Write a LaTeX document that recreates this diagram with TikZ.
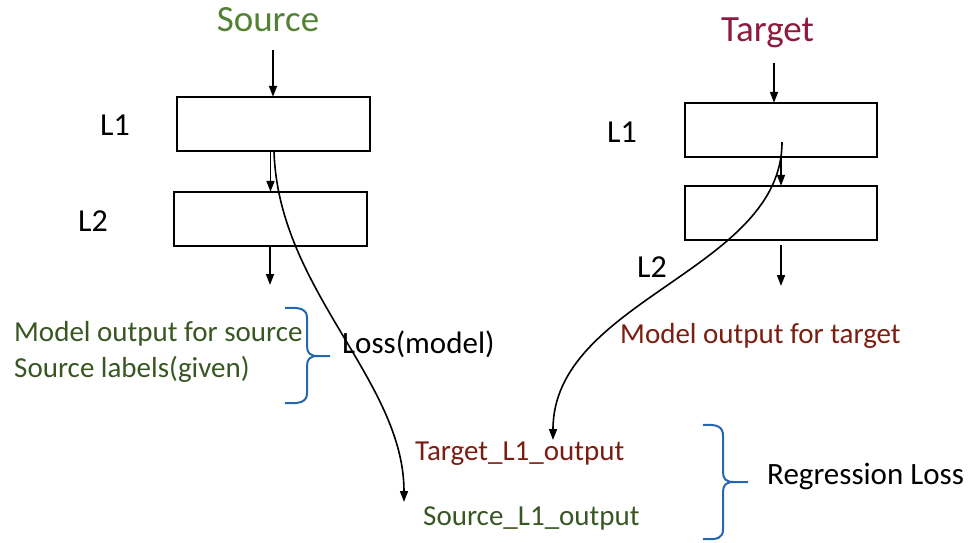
\documentclass[tikz,border=0pt]{standalone}
\usepackage{fontspec}
\setmainfont{Carlito}
\usetikzlibrary{arrows.meta}
\definecolor{srcgreen}{HTML}{548235}
\definecolor{srcdark}{HTML}{385723}
\definecolor{tgtred}{HTML}{8E1B3E}
\definecolor{tgtdark}{HTML}{7B1E12}
\definecolor{braceblue}{HTML}{2467AC}
\tikzset{
  layerbox/.style={draw=black, line width=1.7pt, fill=white},
  flow/.style={line width=1.6pt, -{Triangle[length=11pt,width=8pt]}},
  txt/.style={inner sep=0pt, anchor=base west},
  title/.style={inner sep=0pt, anchor=base, font=\fontsize{37}{44}\selectfont},
  lyr/.style={txt, font=\fontsize{32}{38}\selectfont},
  body/.style={txt, font=\fontsize{29}{35}\selectfont},
  bodyl/.style={txt, font=\fontsize{31}{37}\selectfont},
  curly/.style={draw=braceblue, line width=2pt},
}
\begin{document}
\begin{tikzpicture}[x=1pt, y=-1pt]
\useasboundingbox (0,0) rectangle (975,543);

% titles
\node[title, text=srcgreen] (srctitle) at (268,32) {Source};
\node[title, text=tgtred] (tgttitle) at (767.5,42) {Target};

% source network
\draw[layerbox] (177,97) rectangle (370,151);
\node[inner sep=0pt, minimum width=193pt, minimum height=54pt] (sl1) at (273.5,124) {};
\draw[layerbox] (174,192) rectangle (367,246);
\node[inner sep=0pt, minimum width=193pt, minimum height=54pt] (sl2) at (270.5,219) {};
\node[lyr] (sl1lab) at (100,135) {L1};
\node[lyr] (sl2lab) at (78,231) {L2};

\coordinate (sin) at (273,50);
\coordinate (sout) at (270,285);
\draw[flow] (sin) -- (sin |- sl1.north);
\draw[flow] (sl2.north |- sl1.south) -- (sl2.north);
\draw[flow] (sout |- sl2.south) -- (sout);

% target network
\draw[layerbox] (685,103) rectangle (877,157);
\node[inner sep=0pt, minimum width=192pt, minimum height=54pt] (tl1) at (781,130) {};
\draw[layerbox] (685,186) rectangle (877,240);
\node[inner sep=0pt, minimum width=192pt, minimum height=54pt] (tl2) at (781,213) {};
\node[lyr] (tl1lab) at (607,142) {L1};
\node[lyr] (tl2lab) at (637,277) {L2};

\coordinate (tin) at (774,63);
\coordinate (tout) at (781,286);
\draw[flow] (tin) -- (tin |- tl1.north);
\draw[flow] (tl1.south) -- (tl2.north);
\draw[flow] (781,245) -- (tout);

% output texts
\node[body, text=srcdark] (mos) at (14,341) {Model output for source};
\node[body, text=srcdark] (slab) at (14,377) {Source labels(given)};
\node[bodyl] (lossm) at (342,353) {Loss(model)};
\node[body, text=tgtdark] (mot) at (620,343) {Model output for target};
\node[body, text=tgtdark] (tl1out) at (415,460) {Target\_L1\_output};
\node[body, text=srcdark] (sl1out) at (423,525) {Source\_L1\_output};
\node[bodyl] (regl) at (767,484) {Regression Loss};

% layer-1 outputs carried down to the regression loss
\coordinate (sstart) at (274,151);
\coordinate (send) at (404,502);
\coordinate (tstart) at (782,142);
\coordinate (tend) at (553,440);
\draw[flow] (sstart) .. controls (278,290) and (404,380) .. (send);
\draw[flow] (tstart) .. controls (782,270) and (553,300) .. (tend);

% braces
\draw[curly] (285,308) .. controls (300,307) and (307,309) .. (307,318) -- (307,346)
  .. controls (307,353) and (310,356) .. (318,356) -- (330,356);
\draw[curly] (285,403) .. controls (300,404) and (307,402) .. (307,393) -- (307,366)
  .. controls (307,359) and (310,356) .. (318,356);
\draw[curly] (703,425) .. controls (718,424) and (723,427) .. (723,436) -- (723,472)
  .. controls (723,479) and (726,482) .. (734,482) -- (748,482);
\draw[curly] (703,539) .. controls (718,540) and (723,538) .. (723,529) -- (723,492)
  .. controls (723,485) and (726,482) .. (734,482);
\end{tikzpicture}
\end{document}
